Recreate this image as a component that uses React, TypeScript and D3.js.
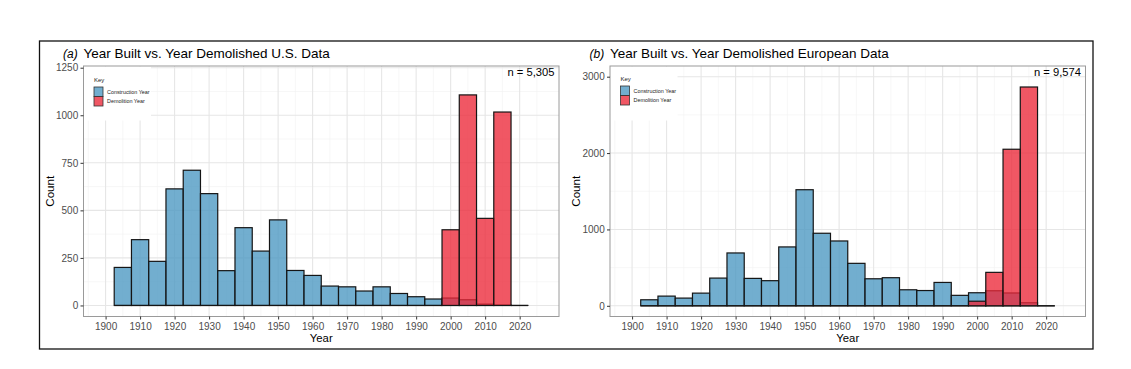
import React, { useRef, useEffect } from "react";
import * as d3 from "d3";

// bin centres (5-year bins)
const binYears = [1905, 1910, 1915, 1920, 1925, 1930, 1935, 1940, 1945, 1950, 1955, 1960,
  1965, 1970, 1975, 1980, 1985, 1990, 1995, 2000, 2005, 2010, 2015, 2020];

const usBuilt = [200, 346, 232, 613, 711, 588, 183, 409, 286, 450, 184, 158,
  102, 98, 76, 98, 63, 46, 34, 39, 30, 7, 2, 0];
const usDemolished = [0, 0, 0, 0, 0, 0, 0, 0, 0, 0, 0, 0,
  0, 0, 0, 0, 0, 0, 0, 398, 1107, 458, 1017, 0];

const euBuilt = [79, 127, 101, 166, 363, 692, 359, 329, 771, 1520, 950, 849,
  556, 354, 368, 210, 200, 306, 137, 171, 197, 168, 40, 0];
const euDemolished = [0, 0, 0, 0, 0, 0, 0, 0, 0, 0, 0, 0,
  0, 0, 0, 0, 0, 0, 0, 60, 438, 2050, 2865, 0];

const xTicks = [1900, 1910, 1920, 1930, 1940, 1950, 1960, 1970, 1980, 1990, 2000, 2010, 2020];
const usYTicks = [0, 250, 500, 750, 1000, 1250];
const euYTicks = [0, 1000, 2000, 3000];
const keyLabels = ["Construction Year", "Demolition Year"];

const BLUE = "#4a97c2";
const RED = "#ec2838";
const FONT = "'Liberation Sans', Arial, Helvetica, sans-serif";

interface PanelSpec {
  tag: string;
  title: string;
  n: string;
  built: number[];
  demolished: number[];
  yTicks: number[];
  yDomain: [number, number];
  left: number;
  right: number;
  top: number;
  bottom: number;
  keyTop: number;
}

const panels: PanelSpec[] = [
  {
    tag: "(a)",
    title: "Year Built vs. Year Demolished U.S. Data",
    n: "n = 5,305",
    built: usBuilt,
    demolished: usDemolished,
    yTicks: usYTicks,
    yDomain: [-58, 1259],
    left: 83.5,
    right: 559,
    top: 66,
    bottom: 316.5,
    keyTop: 77,
  },
  {
    tag: "(b)",
    title: "Year Built vs. Year Demolished European Data",
    n: "n = 9,574",
    built: euBuilt,
    demolished: euDemolished,
    yTicks: euYTicks,
    yDomain: [-140, 3140],
    left: 610,
    right: 1085.5,
    top: 66,
    bottom: 316.5,
    keyTop: 76,
  },
];

const drawPanel = (root: d3.Selection<SVGGElement, unknown, null, undefined>, p: PanelSpec) => {
  const g = root.append("g");
  const x = d3.scaleLinear().domain([1893.6, 2031.4]).range([p.left, p.right]);
  const y = d3.scaleLinear().domain(p.yDomain).range([p.bottom, p.top]);

  // grid
  const yMinor = d3.pairs(p.yTicks).map(([a, b]) => (a + b) / 2);
  const xMinor = [...xTicks.map((t) => t - 5), 2025];
  const grid = g.append("g");
  grid.selectAll(".ymin").data(yMinor).enter().append("line")
    .attr("x1", p.left).attr("x2", p.right)
    .attr("y1", (d) => y(d)).attr("y2", (d) => y(d))
    .attr("stroke", "#f2f2f2").attr("stroke-width", 0.6);
  grid.selectAll(".xmin").data(xMinor).enter().append("line")
    .attr("x1", (d) => x(d)).attr("x2", (d) => x(d))
    .attr("y1", p.top).attr("y2", p.bottom)
    .attr("stroke", "#f2f2f2").attr("stroke-width", 0.6);
  grid.selectAll(".ymaj").data(p.yTicks).enter().append("line")
    .attr("x1", p.left).attr("x2", p.right)
    .attr("y1", (d) => y(d)).attr("y2", (d) => y(d))
    .attr("stroke", "#e6e6e6").attr("stroke-width", 1.1);
  grid.selectAll(".xmaj").data(xTicks).enter().append("line")
    .attr("x1", (d) => x(d)).attr("x2", (d) => x(d))
    .attr("y1", p.top).attr("y2", p.bottom)
    .attr("stroke", "#e6e6e6").attr("stroke-width", 1.1);

  // legend background hides the grid
  g.append("rect")
    .attr("x", p.left + 0.5).attr("y", p.top + 0.5)
    .attr("width", 67).attr("height", 54)
    .attr("fill", "white");

  // bars
  const series = [
    { values: p.built, color: BLUE },
    { values: p.demolished, color: RED },
  ];
  series.forEach((s) => {
    const rows = binYears.map((yr, i) => ({ yr, v: s.values[i] }));
    g.append("g").selectAll("rect")
      .data(rows.filter((r) => r.v > 0))
      .enter().append("rect")
      .attr("x", (d) => x(d.yr - 2.5))
      .attr("width", (d) => x(d.yr + 2.5) - x(d.yr - 2.5))
      .attr("y", (d) => y(d.v))
      .attr("height", (d) => y(0) - y(d.v))
      .attr("fill", s.color)
      .attr("fill-opacity", 0.78)
      .attr("stroke", "#151515")
      .attr("stroke-width", 1.2);
    g.append("g").selectAll("line")
      .data(rows.filter((r) => r.v === 0))
      .enter().append("line")
      .attr("x1", (d) => x(d.yr - 2.5))
      .attr("x2", (d) => x(d.yr + 2.5))
      .attr("y1", y(0)).attr("y2", y(0))
      .attr("stroke", "#151515")
      .attr("stroke-width", 1.2);
  });

  // panel border
  g.append("rect")
    .attr("x", p.left).attr("y", p.top)
    .attr("width", p.right - p.left).attr("height", p.bottom - p.top)
    .attr("fill", "none").attr("stroke", "#9a9a9a").attr("stroke-width", 1);

  // axes
  const yAxis = g.append("g")
    .attr("transform", `translate(${p.left},0)`)
    .call(d3.axisLeft(y).tickValues(p.yTicks).tickSize(3).tickPadding(2.3).tickFormat(d3.format("d")));
  const xAxis = g.append("g")
    .attr("transform", `translate(0,${p.bottom})`)
    .call(d3.axisBottom(x).tickValues(xTicks).tickSize(3).tickPadding(3).tickFormat(d3.format("d")));
  [yAxis, xAxis].forEach((a) => {
    a.select(".domain").remove();
    a.selectAll(".tick line").attr("stroke", "#333").attr("stroke-width", 1);
    a.selectAll(".tick text").attr("fill", "#4d4d4d").style("font-size", "10px").style("font-family", FONT);
  });

  // axis titles
  g.append("text")
    .attr("x", (p.left + p.right) / 2).attr("y", 338.5).attr("dy", "0.35em")
    .attr("text-anchor", "middle")
    .style("font-size", "11.3px").style("font-family", FONT)
    .text("Year");
  g.append("text")
    .attr("transform", `translate(${p.left - 33.8},${(p.top + p.bottom) / 2}) rotate(-90)`)
    .attr("dy", "0.35em")
    .attr("text-anchor", "middle")
    .style("font-size", "11.6px").style("font-family", FONT)
    .text("Count");

  // title
  g.append("text")
    .attr("x", p.left - 20.5).attr("y", 57.7)
    .style("font-size", "12px").style("font-style", "italic").style("font-family", FONT)
    .text(p.tag);
  g.append("text")
    .attr("x", p.left).attr("y", 57.7)
    .style("font-size", "13.5px").style("font-family", FONT)
    .text(p.title);

  // n annotation
  g.append("text")
    .attr("x", p.right - 4.5).attr("y", 76.3)
    .attr("text-anchor", "end")
    .style("font-size", "11.2px").style("font-family", FONT)
    .text(p.n);

  // legend
  const lx = p.left + 10.5;
  g.append("text")
    .attr("x", lx).attr("y", p.keyTop + 5)
    .style("font-size", "6px").attr("fill", "#222").style("font-family", FONT)
    .text("Key");
  [BLUE, RED].forEach((c, i) => {
    const ky = p.keyTop + 10 + i * 9.5;
    g.append("rect")
      .attr("x", lx).attr("y", ky)
      .attr("width", 9).attr("height", 9.5)
      .attr("fill", c).attr("fill-opacity", 0.78)
      .attr("stroke", "#333").attr("stroke-width", 0.8);
    g.append("text")
      .attr("x", lx + 13).attr("y", ky + 4.75).attr("dy", "0.35em")
      .style("font-size", "5.4px").attr("fill", "#222").style("font-family", FONT)
      .text(keyLabels[i]);
  });
};

const App: React.FC = () => {
  const svgRef = useRef<SVGSVGElement>(null);

  useEffect(() => {
    const svg = d3.select(svgRef.current);
    svg.selectAll("*").remove();
    const root = svg.append("g");

    root.append("rect")
      .attr("x", 39.5).attr("y", 41)
      .attr("width", 1053.5).attr("height", 308)
      .attr("fill", "white").attr("stroke", "#111").attr("stroke-width", 1.3);

    panels.forEach((p) => drawPanel(root, p));
  }, []);

  return (
    <svg
      ref={svgRef}
      width={1131}
      height={369}
      style={{ position: "absolute", left: 0, top: 0, background: "white" }}
    ></svg>
  );
};

export default App;
